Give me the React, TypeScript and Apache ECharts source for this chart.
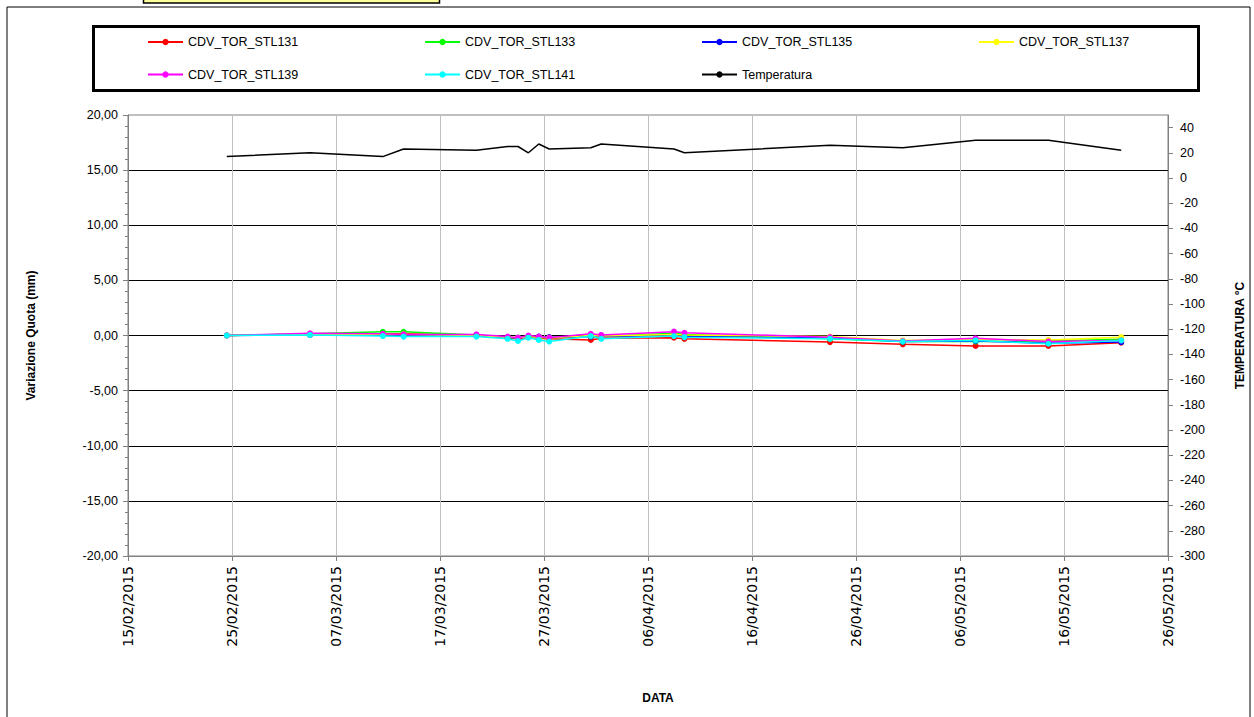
import React, { useEffect, useRef } from "react";
import * as echarts from "echarts";

// Measurement dates (local readings, around midday)
const dates: string[] = [
  "2015-02-24T12:00", "2015-03-04T12:00", "2015-03-11T12:00", "2015-03-13T12:00",
  "2015-03-20T12:00", "2015-03-23T12:00", "2015-03-24T12:00", "2015-03-25T12:00",
  "2015-03-26T12:00", "2015-03-27T12:00", "2015-03-31T12:00", "2015-04-01T12:00",
  "2015-04-08T12:00", "2015-04-09T12:00", "2015-04-23T12:00", "2015-04-30T12:00",
  "2015-05-07T12:00", "2015-05-14T12:00", "2015-05-21T12:00",
];

const stl131: number[] = [0, 0.1, 0.15, 0.15, 0, -0.2, -0.3, -0.15, -0.25, -0.3, -0.4, -0.25, -0.2, -0.3, -0.6, -0.8, -0.95, -0.95, -0.65];
const stl133: number[] = [0, 0.15, 0.33, 0.33, 0.05, -0.15, -0.2, -0.1, -0.15, -0.2, -0.1, -0.1, 0.2, 0.1, -0.3, -0.55, -0.55, -0.5, -0.35];
const stl135: number[] = [0, 0.05, 0.05, 0.05, 0, -0.2, -0.2, -0.1, -0.1, -0.15, -0.1, -0.1, 0, -0.1, -0.2, -0.55, -0.5, -0.7, -0.6];
const stl137: number[] = [0, 0.1, 0.1, 0.1, 0, -0.15, -0.2, -0.1, -0.15, -0.2, 0, -0.05, 0.1, 0.05, -0.1, -0.45, -0.35, -0.4, -0.15];
const stl139: number[] = [0, 0.2, 0.15, 0.1, 0.1, -0.1, -0.2, 0, -0.1, -0.2, 0.15, 0.05, 0.35, 0.25, -0.15, -0.5, -0.25, -0.55, -0.45];
const stl141: number[] = [0, 0.05, -0.05, -0.1, -0.1, -0.3, -0.5, -0.2, -0.4, -0.55, -0.05, -0.3, -0.05, -0.15, -0.3, -0.55, -0.45, -0.75, -0.45];
const temperatura: number[] = [17, 20, 17, 23, 22, 25, 25, 20, 27, 23, 24, 27, 23, 20, 26, 24, 30, 30, 22];

const seriesNames: string[] = [
  "CDV_TOR_STL131", "CDV_TOR_STL133", "CDV_TOR_STL135", "CDV_TOR_STL137",
  "CDV_TOR_STL139", "CDV_TOR_STL141", "Temperatura",
];
const seriesColors: string[] = ["#FF0000", "#00FF00", "#0000FF", "#FFFF00", "#FF00FF", "#00FFFF", "#000000"];
const seriesValues: number[][] = [stl131, stl133, stl135, stl137, stl139, stl141, temperatura];

const rightTicks: number[] = [-300, -280, -260, -240, -220, -200, -180, -160, -140, -120, -100, -80, -60, -40, -20, 0, 20, 40];

const X_START = Date.UTC(2015, 1, 15);
const DAY = 86400000;
const toDay = (s: string) => (Date.parse(s + "Z") - X_START) / DAY;
const pad = (n: number) => (n < 10 ? "0" + n : "" + n);
const fmtDate = (v: number) => {
  const d = new Date(X_START + Math.round(v) * DAY);
  return pad(d.getUTCDate()) + "/" + pad(d.getUTCMonth() + 1) + "/" + d.getUTCFullYear();
};

const FONT = "'Liberation Sans', Arial, sans-serif";
const XFONT = "'DejaVu Sans', Verdana, sans-serif";

export default function App() {
  const ref = useRef<HTMLDivElement>(null);
  useEffect(() => {
    if (!ref.current) return;
    const chart = echarts.init(ref.current, undefined, { renderer: "svg" });
    const xs = dates.map(toDay);
    const legendCols = [147, 424, 701, 978];
    const legendRows = [35.5, 68];
    const series: any[] = seriesNames.map((name, i) => {
      const isTemp = name === "Temperatura";
      return {
        name,
        type: "line",
        yAxisIndex: isTemp ? 1 : 0,
        data: xs.map((x, j) => [x, seriesValues[i][j]]),
        symbol: isTemp ? "none" : "circle",
        symbolSize: 6,
        showSymbol: !isTemp,
        itemStyle: { color: seriesColors[i] },
        lineStyle: { color: seriesColors[i], width: 1.5 },
        emphasis: { disabled: true },
      };
    });
    const legends: any[] = seriesNames.map((name, i) => ({
      data: [name],
      left: legendCols[i % 4],
      top: legendRows[Math.floor(i / 4)],
      padding: 0,
      itemWidth: 35,
      itemHeight: 8,
      itemGap: 0,
      selectedMode: false,
      textStyle: { fontSize: 12.5, color: "#000", fontFamily: FONT },
    }));
    chart.setOption({
      animation: false,
      backgroundColor: "#ffffff",
      textStyle: { fontFamily: FONT },
      graphic: [
        { type: "rect", shape: { x: 7, y: 7, width: 1243, height: 730 }, style: { fill: "none", stroke: "#000", lineWidth: 1 }, z: -10 },
        { type: "rect", shape: { x: 143.5, y: -10, width: 296, height: 13 }, style: { fill: "#FFFF99", stroke: "#000", lineWidth: 1.5 }, z: 10 },
        { type: "rect", shape: { x: 93.5, y: 26.5, width: 1105, height: 64 }, style: { fill: "none", stroke: "#000", lineWidth: 3 }, z: 10 },
      ],
      legend: legends,
      grid: {
        left: 128, right: 86, top: 115, bottom: 161,
        show: true, borderColor: "#808080", borderWidth: 1, backgroundColor: "transparent",
      },
      xAxis: {
        type: "value", min: 0, max: 100, interval: 10,
        name: "DATA", nameLocation: "middle", nameGap: 136,
        nameTextStyle: { fontWeight: "bold", fontSize: 12, color: "#000", fontFamily: FONT, padding: [0, 0, 0, 20] },
        axisLine: { show: true, onZero: false, lineStyle: { color: "#808080", width: 1 } },
        axisTick: { show: true, inside: false, length: 5, lineStyle: { color: "#808080" } },
        axisLabel: { rotate: 90, margin: 10, fontSize: 14, color: "#000", fontFamily: XFONT, formatter: (v: number) => fmtDate(v) },
        splitLine: { show: true, lineStyle: { color: "#C0C0C0", width: 1 } },
      },
      yAxis: [
        {
          type: "value", min: -20, max: 20, interval: 5, position: "left",
          name: "Variazione Quota (mm)", nameLocation: "middle", nameRotate: 90, nameGap: 91,
          nameTextStyle: { fontWeight: "bold", fontSize: 12, color: "#000", fontFamily: FONT },
          axisLine: { show: true, lineStyle: { color: "#808080", width: 1 } },
          axisTick: { show: true, inside: false, length: 5, lineStyle: { color: "#808080" } },
          minorTick: { show: true, splitNumber: 5, length: 3, lineStyle: { color: "#808080" } },
          axisLabel: { margin: 10, fontSize: 12.5, color: "#000", fontFamily: FONT, formatter: (v: number) => v.toFixed(2).replace(".", ",") },
          splitLine: { show: true, showMinLine: false, showMaxLine: false, lineStyle: { color: "#000", width: 1 } },
        },
        {
          type: "value", min: -300, max: 50, interval: 20, position: "right",
          name: "TEMPERATURA °C", nameLocation: "middle", nameRotate: 90, nameGap: 66,
          nameTextStyle: { fontWeight: "bold", fontSize: 12, color: "#000", fontFamily: FONT },
          axisLine: { show: true, lineStyle: { color: "#808080", width: 1 } },
          axisTick: { show: true, inside: false, length: 5, customValues: rightTicks, lineStyle: { color: "#808080" } },
          axisLabel: { margin: 12, fontSize: 12.5, color: "#000", fontFamily: FONT, customValues: rightTicks },
          splitLine: { show: false },
        },
      ],
      series,
    });
    return () => chart.dispose();
  }, []);
  return <div ref={ref} style={{ position: "absolute", left: 0, top: 0, width: 1254, height: 717 }} />;
}
